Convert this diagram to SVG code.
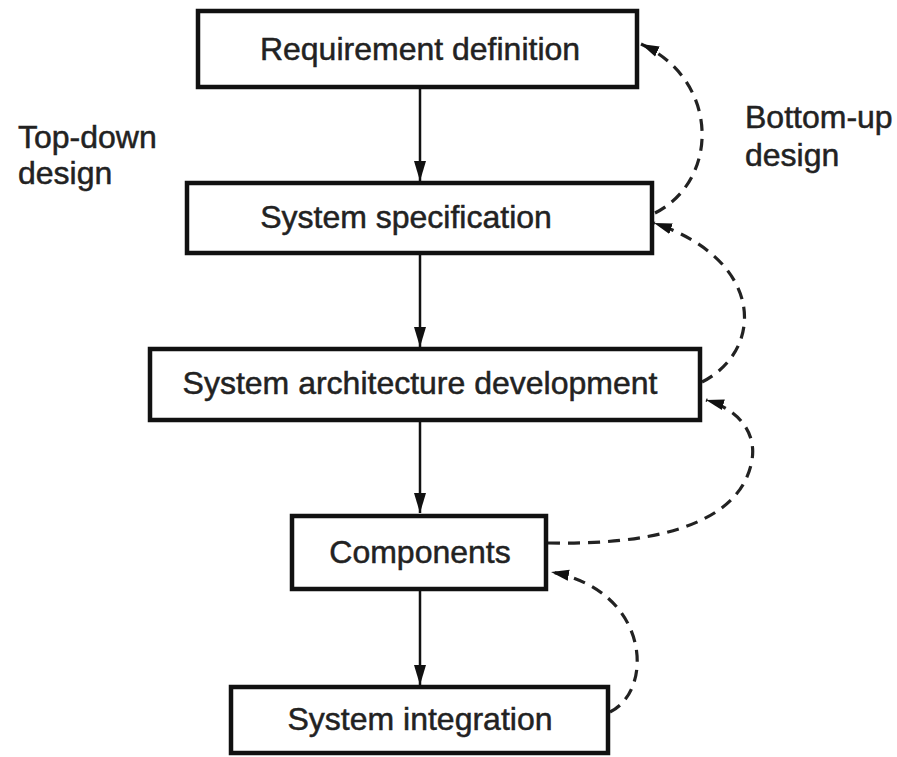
<svg xmlns="http://www.w3.org/2000/svg" width="897" height="757" viewBox="0 0 897 757">
  <defs>
    <marker id="solidHead" markerUnits="userSpaceOnUse" markerWidth="22" markerHeight="20" viewBox="0 0 22 20" refX="20" refY="10" orient="auto">
      <path d="M0,4 L20,10 L0,16 Z" fill="#111"/>
    </marker>
    <marker id="dashHead" markerUnits="userSpaceOnUse" markerWidth="20" markerHeight="20" viewBox="0 0 20 20" refX="18" refY="10" orient="auto">
      <path d="M0,4.5 L18,10 L0,15.5 Z" fill="#111"/>
    </marker>
  </defs>
  <style>
    .box { fill: #fff; stroke: #111; stroke-width: 4.5; }
    .label { font-family: "Liberation Sans", Arial, sans-serif; font-size: 32px; fill: #222; stroke: #222; stroke-width: 0.5; text-anchor: middle; }
    .side { font-family: "Liberation Sans", Arial, sans-serif; font-size: 32px; fill: #222; stroke: #222; stroke-width: 0.5; }
    .flow { fill: none; stroke: #111; stroke-width: 2.5; marker-end: url(#solidHead); }
    .feedback { fill: none; stroke: #222; stroke-width: 3.2; stroke-dasharray: 12 8; marker-end: url(#dashHead); }
  </style>
  <rect width="897" height="757" fill="#fff"/>

  <g id="connectors">
    <!-- top-down flow -->
    <line class="flow" x1="420" y1="88" x2="420" y2="181"/>
    <line class="flow" x1="420" y1="254" x2="420" y2="347"/>
    <line class="flow" x1="420" y1="421" x2="420" y2="513"/>
    <line class="flow" x1="420" y1="591" x2="420" y2="685"/>
    <!-- bottom-up feedback -->
    <path class="feedback" d="M655,213 C720,180 720,80 641,44"/>
    <path class="feedback" d="M702,382 C765,350 765,260 654,223"/>
    <path class="feedback" d="M548,543 C640,545 740,530 752,460 C757,430 735,408 706,400"/>
    <path class="feedback" d="M610,712 C655,690 650,590 551,572"/>
  </g>

  <g id="requirement-definition">
    <rect class="box" x="198" y="11" width="439" height="76"/>
    <text class="label" x="420" y="60">Requirement definition</text>
  </g>
  <g id="system-specification">
    <rect class="box" x="187" y="183" width="465" height="70"/>
    <text class="label" x="406" y="228">System specification</text>
  </g>
  <g id="system-architecture-development">
    <rect class="box" x="150" y="349" width="550" height="71"/>
    <text class="label" x="420" y="394">System architecture development</text>
  </g>
  <g id="components">
    <rect class="box" x="292" y="516" width="254" height="73"/>
    <text class="label" x="420" y="563">Components</text>
  </g>
  <g id="system-integration">
    <rect class="box" x="231" y="687" width="377" height="66"/>
    <text class="label" x="420" y="730">System integration</text>
  </g>

  <g id="top-down-label">
    <text class="side" x="18" y="148">Top-down</text>
    <text class="side" x="18" y="184">design</text>
  </g>
  <g id="bottom-up-label">
    <text class="side" x="745" y="128">Bottom-up</text>
    <text class="side" x="745" y="166">design</text>
  </g>
</svg>
